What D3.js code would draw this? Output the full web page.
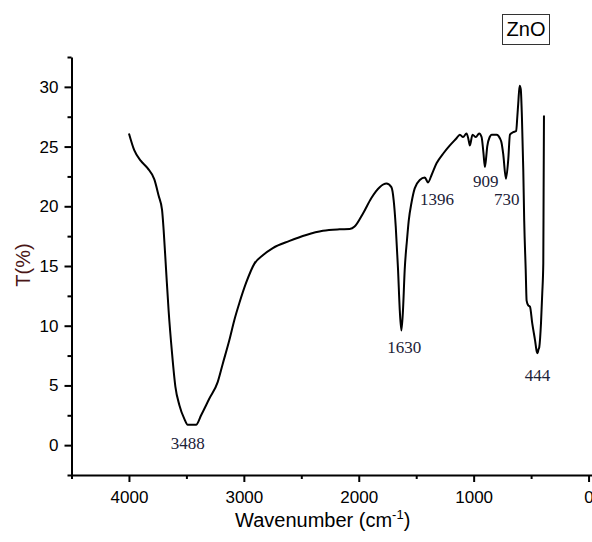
<!DOCTYPE html>
<html>
<head>
<meta charset="utf-8">
<script src="https://cdn.jsdelivr.net/npm/d3@7"></script>
<style>
  body { margin: 0; background: #fff; }
  text { font-family: "Liberation Sans", Arial, sans-serif; }
</style>
</head>
<body>
<svg id="chart" width="592" height="542"></svg>
<script>
// spectrum (cm-1, T%)
var wavenumber = [4000, 3954, 3896, 3838, 3779, 3742, 3712, 3698, 3677, 3655, 3625, 3596, 3561, 3518, 3489, 3416, 3372, 3300, 3227, 3184, 3126, 3082, 3039, 2980, 2908, 2835, 2748, 2602, 2457, 2312, 2167, 2079, 2036, 1963, 1890, 1818, 1759, 1716, 1696, 1678, 1658, 1643, 1629, 1615, 1600, 1580, 1565, 1541, 1513, 1469, 1425, 1397, 1367, 1323, 1266, 1207, 1149, 1120, 1092, 1062, 1045, 1033, 1010, 981, 952, 931, 915, 902, 890, 882, 860, 844, 800, 772, 757, 743, 719, 699, 684, 656, 630, 620, 612, 600, 590, 580, 568, 560, 547, 539, 525, 510, 490, 466, 450, 443, 436, 429, 414, 403, 394, 391, 388];
var transmittance = [26.1, 24.7, 23.8, 23.2, 22.25, 20.9, 19.7, 18.0, 14.7, 11.3, 7.7, 4.9, 3.35, 2.2, 1.7, 1.7, 2.5, 3.9, 5.3, 6.8, 8.8, 10.5, 11.9, 13.6, 15.2, 15.9, 16.5, 17.1, 17.6, 17.95, 18.07, 18.1, 18.3, 19.4, 20.7, 21.6, 21.9, 21.6, 20.5, 18.3, 14.7, 11.3, 9.6, 11.3, 14.7, 17.2, 18.8, 20.3, 21.5, 22.2, 22.4, 22.0, 22.6, 23.6, 24.4, 25.1, 25.7, 26.0, 25.8, 26.1, 25.6, 25.1, 26.0, 25.8, 26.1, 25.8, 24.5, 23.3, 24.2, 25.0, 25.8, 26.0, 26.0, 25.7, 25.3, 24.4, 22.3, 23.9, 26.0, 26.2, 26.3, 27.5, 28.6, 30.1, 29.8, 27.5, 23.0, 18.8, 14.7, 12.1, 11.7, 11.6, 10.2, 8.8, 7.8, 7.7, 8.0, 8.2, 10.2, 12.7, 15.2, 21.6, 27.6];

// peak annotations: label, wavenumber where it sits, T of baseline
var peakLabels = ["3488", "1630", "1396", "909", "730", "444"];
var peakX = [3488, 1605, 1320, 895, 713, 444];
var peakY = [-0.35, 7.7, 20.1, 21.6, 20.1, 5.4];

var xTicks = [4000, 3000, 2000, 1000, 0];
var xMinor = [4500, 3500, 2500, 1500, 500];
var yTicks = [0, 5, 10, 15, 20, 25, 30];
var yMinor = [-2.5, 2.5, 7.5, 12.5, 17.5, 22.5, 27.5, 32.5];

var svg = d3.select("#chart");

// scales
var xScale = d3.scaleLinear().domain([4500, -30]).range([71.5, 592]);
var yScale = d3.scaleLinear().domain([-2.5, 32.5]).range([475, 57]);

// minor ticks first so major ones sit on top
svg.append("g").attr("transform", "translate(0,475)")
  .call(d3.axisBottom(xScale).tickValues(xMinor).tickSize(4).tickFormat(""))
  .call(function(g){ g.select(".domain").remove(); })
  .selectAll("line").attr("stroke", "#000").attr("stroke-width", 2);
svg.append("g").attr("transform", "translate(71.5,0)")
  .call(d3.axisLeft(yScale).tickValues(yMinor).tickSize(4).tickFormat(""))
  .call(function(g){ g.select(".domain").remove(); })
  .selectAll("line").attr("stroke", "#000").attr("stroke-width", 2);

// major axes
var gx = svg.append("g").attr("transform", "translate(0,475)")
  .call(d3.axisBottom(xScale).tickValues(xTicks).tickSize(7).tickSizeOuter(0).tickPadding(9).tickFormat(d3.format("d")));
var gy = svg.append("g").attr("transform", "translate(71.5,0)")
  .call(d3.axisLeft(yScale).tickValues(yTicks).tickSize(7).tickSizeOuter(0).tickPadding(6));
[gx, gy].forEach(function(g){
  g.select(".domain").attr("stroke", "#000").attr("stroke-width", 2);
  g.selectAll("line").attr("stroke", "#000").attr("stroke-width", 2);
  g.selectAll("text").attr("fill", "#000").style("font-family", "'Liberation Sans', Arial, sans-serif").style("font-size", "17px");
});

// spectrum (smoothed in pixel space, x runs left to right)
var pts = wavenumber.map(function(w, i){ return {x: w, y: transmittance[i]}; });
var line = d3.line().curve(d3.curveMonotoneX)
  .x(function(d){ return xScale(d.x); }).y(function(d){ return yScale(d.y); });
svg.append("path").attr("d", line(pts))
  .attr("fill", "none").attr("stroke", "#000").attr("stroke-width", 2)
  .attr("stroke-linejoin", "round");

// peak labels
svg.selectAll(".peak").data(peakLabels).enter().append("text")
  .attr("class", "peak")
  .attr("x", function(d, i){ return xScale(peakX[i]); })
  .attr("y", function(d, i){ return yScale(peakY[i]); })
  .attr("text-anchor", "middle")
  .style("font-family", "'Liberation Serif', 'Times New Roman', serif")
  .style("font-size", "17px")
  .attr("fill", "#1c2238")
  .text(function(d){ return d; });

// axis titles
var xt = svg.append("text").attr("x", 235).attr("y", 527)
  .style("font-size", "20px").attr("fill", "#000");
xt.append("tspan").text("Wavenumber (cm");
xt.append("tspan").attr("dy", -8).style("font-size", "13px").text("-1");
xt.append("tspan").attr("dy", 8).text(")");

svg.append("text").attr("transform", "translate(30,265) rotate(-90)")
  .attr("text-anchor", "middle")
  .style("font-size", "20px").attr("fill", "#4a1616")
  .text("T(%)");

// sample tag
svg.append("rect").attr("x", 502.5).attr("y", 14.5).attr("width", 47).attr("height", 30)
  .attr("fill", "#fff").attr("stroke", "#333").attr("stroke-width", 1);
svg.append("text").attr("x", 526).attr("y", 36).attr("text-anchor", "middle")
  .style("font-size", "20px").attr("fill", "#000").text("ZnO");
</script>
</body>
</html>
